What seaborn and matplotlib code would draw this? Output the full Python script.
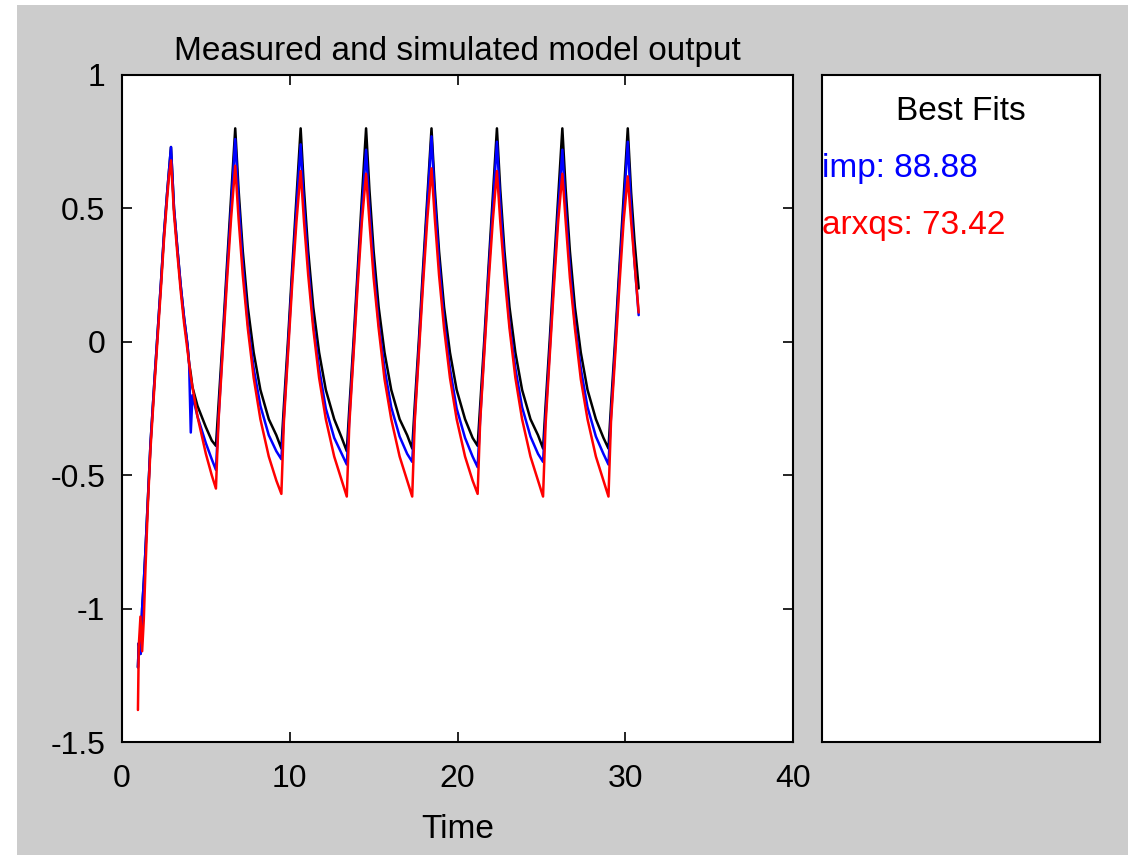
import matplotlib
matplotlib.use("Agg")
import matplotlib.pyplot as plt
from matplotlib.patches import Rectangle
import seaborn as sns

# ---------------- data ----------------
time = [
    0.95, 1.0, 1.1, 1.2, 1.3, 1.4, 1.55, 1.7, 1.95, 2.15, 2.32, 2.5, 2.68, 2.8, 2.92,
    3.1, 3.3, 3.5, 3.7, 3.9, 4.0, 4.1, 4.2, 4.5, 5.0, 5.35,
    5.6, 5.75, 6.0, 6.25, 6.5, 6.75, 6.95, 7.2, 7.5, 7.85, 8.25, 8.75, 9.2,
    9.5, 9.65, 9.9, 10.15, 10.4, 10.65, 10.85, 11.1, 11.4, 11.75, 12.15, 12.65, 13.1,
    13.4, 13.55, 13.8, 14.05, 14.3, 14.55, 14.75, 15.0, 15.3, 15.65, 16.05, 16.55, 17.0,
    17.3, 17.45, 17.7, 17.95, 18.2, 18.45, 18.65, 18.9, 19.2, 19.55, 19.95, 20.45, 20.9,
    21.2, 21.35, 21.6, 21.85, 22.1, 22.35, 22.55, 22.8, 23.1, 23.45, 23.85, 24.35, 24.8,
    25.1, 25.25, 25.5, 25.75, 26.0, 26.25, 26.45, 26.7, 27.0, 27.35, 27.75, 28.25, 28.7,
    29.0, 29.15, 29.4, 29.65, 29.9, 30.15, 30.35, 30.55, 30.8,
]

measured = [
    -1.22, -1.13, -1.17, -1.0, -0.9, -0.78, -0.58, -0.38, -0.13, 0.06, 0.22, 0.4, 0.55, 0.64, 0.73,
    0.5, 0.35, 0.21, 0.09, -0.01, -0.08, -0.12, -0.17, -0.24, -0.32, -0.37,
    -0.39, -0.24, 0.01, 0.28, 0.54, 0.80, 0.57, 0.34, 0.13, -0.04, -0.18, -0.29, -0.35,
    -0.40, -0.24, 0.01, 0.28, 0.54, 0.80, 0.57, 0.34, 0.13, -0.04, -0.18, -0.29, -0.36,
    -0.41, -0.25, 0.00, 0.27, 0.54, 0.80, 0.57, 0.34, 0.13, -0.04, -0.18, -0.29, -0.35,
    -0.40, -0.24, 0.01, 0.28, 0.54, 0.80, 0.57, 0.34, 0.13, -0.04, -0.18, -0.29, -0.36,
    -0.39, -0.24, 0.01, 0.28, 0.54, 0.80, 0.57, 0.34, 0.13, -0.04, -0.18, -0.29, -0.35,
    -0.40, -0.24, 0.01, 0.28, 0.54, 0.80, 0.57, 0.34, 0.13, -0.04, -0.18, -0.29, -0.36,
    -0.40, -0.24, 0.01, 0.28, 0.54, 0.80, 0.56, 0.38, 0.20,
]

imp_sim = [
    -1.22, -1.13, -1.17, -1.0, -0.9, -0.78, -0.58, -0.38, -0.13, 0.06, 0.22, 0.4, 0.55, 0.64, 0.73,
    0.5, 0.35, 0.21, 0.09, -0.01, -0.08, -0.34, -0.2, -0.28, -0.38, -0.44,
    -0.48, -0.29, -0.02, 0.25, 0.50, 0.76, 0.53, 0.29, 0.07, -0.10, -0.24, -0.35, -0.41,
    -0.44, -0.28, -0.02, 0.25, 0.50, 0.74, 0.51, 0.29, 0.07, -0.10, -0.25, -0.36, -0.42,
    -0.46, -0.29, -0.03, 0.24, 0.49, 0.72, 0.50, 0.28, 0.07, -0.10, -0.245, -0.355, -0.42,
    -0.45, -0.28, -0.02, 0.25, 0.51, 0.77, 0.53, 0.30, 0.08, -0.10, -0.25, -0.36, -0.43,
    -0.47, -0.29, -0.02, 0.25, 0.50, 0.75, 0.52, 0.29, 0.07, -0.10, -0.245, -0.355, -0.42,
    -0.45, -0.28, -0.03, 0.24, 0.49, 0.72, 0.50, 0.28, 0.07, -0.10, -0.245, -0.355, -0.42,
    -0.46, -0.28, -0.02, 0.25, 0.50, 0.75, 0.50, 0.30, 0.10,
]

arxqs_sim = [
    -1.38, -1.14, -1.03, -1.16, -1.04, -0.85, -0.6, -0.4, -0.15, 0.04, 0.2, 0.38, 0.53, 0.62, 0.68,
    0.48, 0.33, 0.19, 0.07, -0.03, -0.08, -0.13, -0.17, -0.28, -0.42, -0.50,
    -0.55, -0.30, -0.04, 0.22, 0.46, 0.66, 0.46, 0.25, 0.05, -0.135, -0.29, -0.43, -0.52,
    -0.57, -0.30, -0.04, 0.22, 0.45, 0.64, 0.45, 0.25, 0.05, -0.135, -0.29, -0.43, -0.52,
    -0.58, -0.31, -0.05, 0.21, 0.45, 0.63, 0.45, 0.24, 0.05, -0.14, -0.29, -0.43, -0.52,
    -0.58, -0.30, -0.04, 0.22, 0.46, 0.65, 0.46, 0.25, 0.05, -0.135, -0.29, -0.43, -0.52,
    -0.57, -0.30, -0.04, 0.22, 0.45, 0.64, 0.45, 0.25, 0.05, -0.135, -0.29, -0.43, -0.52,
    -0.58, -0.31, -0.05, 0.21, 0.45, 0.63, 0.45, 0.24, 0.05, -0.14, -0.29, -0.43, -0.52,
    -0.58, -0.30, -0.05, 0.21, 0.45, 0.62, 0.45, 0.30, 0.11,
]

x_ticks = [0, 10, 20, 30, 40]
x_tick_labels = ["0", "10", "20", "30", "40"]
y_ticks = [-1.5, -1, -0.5, 0, 0.5, 1]
y_tick_labels = ["-1.5", "-1", "-0.5", "0", "0.5", "1"]

fit_names = ["imp", "arxqs"]
fit_values = ["88.88", "73.42"]
fit_colors = ["#0000ff", "#ff0000"]

title_text = "Measured and simulated model output"
xlabel_text = "Time"
panel_title = "Best Fits"

# ---------------- style ----------------
sns.set_theme(style="white")
plt.rcParams["font.family"] = ["Liberation Sans", "DejaVu Sans"]
plt.rcParams["axes.unicode_minus"] = False

FS = 24
FS_TICK = 23
fig = plt.figure(figsize=(11.35, 8.58), dpi=100, facecolor="white")
fig.add_artist(Rectangle((17 / 1135, 3 / 858), (1128 - 17) / 1135, (853 - 3) / 858,
                         transform=fig.transFigure, facecolor="#cccccc",
                         edgecolor="none", zorder=-10))

ax = fig.add_axes([122 / 1135, 1 - 742 / 858, 671 / 1135, 667 / 858])
ax.set_facecolor("white")

sns.lineplot(x=time, y=measured, color="black", lw=1.8, ax=ax, estimator=None, sort=False)
sns.lineplot(x=time, y=imp_sim, color="#0000ff", lw=1.8, ax=ax, estimator=None, sort=False)
sns.lineplot(x=time, y=arxqs_sim, color="#ff0000", lw=1.8, ax=ax, estimator=None, sort=False)

ax.set_xlim(0, 40)
ax.set_ylim(-1.5, 1)
ax.set_xticks(x_ticks)
ax.set_xticklabels(x_tick_labels)
ax.set_yticks(y_ticks)
ax.set_yticklabels(y_tick_labels)
ax.tick_params(direction="in", length=7, width=1.2, top=True, right=True,
               bottom=True, left=True, labelsize=FS_TICK, colors="black")
ax.tick_params(axis="x", pad=16)
ax.tick_params(axis="y", pad=12)
for s in ax.spines.values():
    s.set_color("black")
    s.set_linewidth(1.5)
ax.set_title(title_text, fontsize=FS, color="black", pad=11)
ax.set_xlabel(xlabel_text, fontsize=FS, color="black", labelpad=14)
ax.set_ylabel("")

# Best Fits panel
pan = fig.add_axes([822 / 1135, 1 - 742 / 858, 278 / 1135, 667 / 858])
pan.set_facecolor("white")
pan.set_xticks([])
pan.set_yticks([])
for s in pan.spines.values():
    s.set_color("black")
    s.set_linewidth(1.5)
pan.text(0.5, 0.946, panel_title, transform=pan.transAxes, ha="center", va="center",
         fontsize=FS, color="black")
for i, (n, v, c) in enumerate(zip(fit_names, fit_values, fit_colors)):
    pan.text(0.0, 0.86 - i * 0.086, f"{n}: {v}", transform=pan.transAxes,
             ha="left", va="center", fontsize=FS, color=c)

fig.savefig("out.png", dpi=100, facecolor="white")
